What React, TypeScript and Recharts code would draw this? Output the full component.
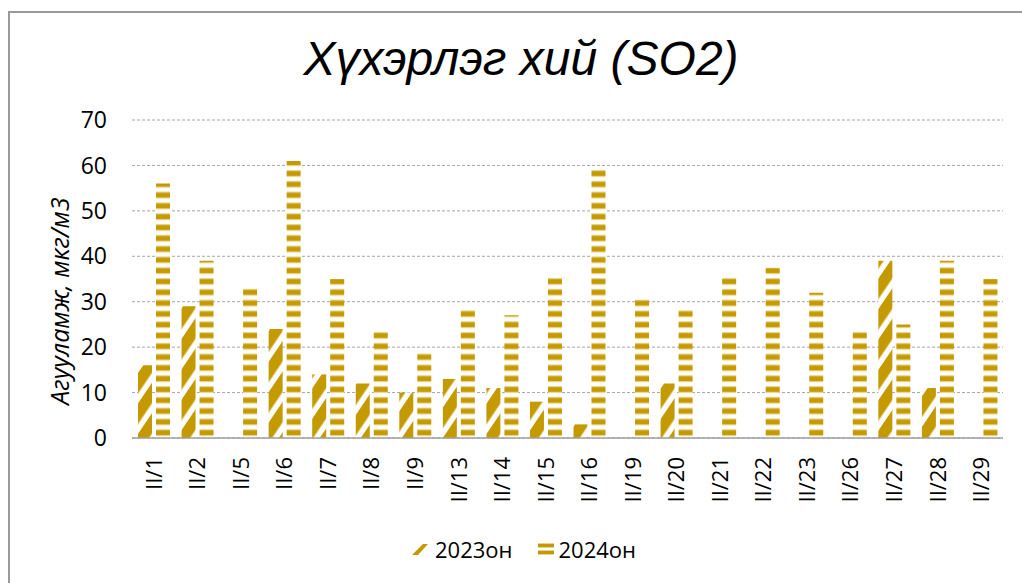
import { BarChart, Bar, XAxis, YAxis, CartesianGrid } from 'recharts';

const days = ['II/1', 'II/2', 'II/5', 'II/6', 'II/7', 'II/8', 'II/9', 'II/13', 'II/14', 'II/15', 'II/16', 'II/19', 'II/20', 'II/21', 'II/22', 'II/23', 'II/26', 'II/27', 'II/28', 'II/29'];
const so2023 = [16, 29, 0, 24, 14, 12, 10, 13, 11, 8, 3, 0, 12, 0, 0, 0, 0, 39, 11, 0];
const so2024 = [56, 39, 33, 61, 35, 23.5, 19, 28.5, 27, 36, 59, 30.5, 28.5, 36, 37.5, 32, 23.5, 25, 39, 35];
const yTicks = [0, 10, 20, 30, 40, 50, 60, 70];

const GOLD = '#C49A00';
const GOLD_LIGHT = '#E8D38C';
const FONT = '"Open Sans", sans-serif';

const data = days.map((d, i) => ({ day: d, y2023: so2023[i], y2024: so2024[i] }));

// rotated date labels under the axis
const XTick = (props: any) => {
  const { x, y, payload } = props;
  const ty = y + 19;
  return (
    <text
      x={x}
      y={ty}
      transform={`rotate(-90, ${x}, ${ty})`}
      textAnchor="end"
      dy="0.36em"
      fontSize={22}
      fontFamily={FONT}
      fill="#000"
    >
      {payload.value}
    </text>
  );
};

export default function App() {
  return (
    <div style={{ position: 'fixed', left: 0, top: 0, width: 1022, height: 583, overflow: 'hidden', background: '#fff' }}>
      <div style={{ position: 'absolute', left: 8, top: 11, width: 1014, height: 572, borderTop: '2px solid #9a9a9a', borderLeft: '2px solid #9a9a9a', boxSizing: 'border-box' }} />

      <div style={{ position: 'absolute', left: 0, width: 1042, top: 32, textAlign: 'center', fontFamily: '"Liberation Sans", Arial, sans-serif', fontStyle: 'italic', fontSize: 48, lineHeight: '54px', color: '#000' }}>
        Хүхэрлэг хий (SO2)
      </div>

      <div style={{ position: 'absolute', left: 0, top: 0 }}>
        <BarChart width={1022} height={583} data={data} margin={{ top: 120, right: 19, bottom: 0, left: 0 }} barSize={14} barGap={4}>
          <defs>
            <pattern id="diag23" patternUnits="userSpaceOnUse" width={17} height={17} patternTransform="rotate(34)">
              <rect x={0} y={0} width={17} height={17} fill="#fff" />
              <rect x={0} y={0} width={11.5} height={17} fill={GOLD} />
            </pattern>
            <pattern id="hstripe24" patternUnits="userSpaceOnUse" width={20} height={10.8} y={438}>
              <rect x={0} y={0} width={20} height={10.8} fill="#fff" />
              <rect x={0} y={2} width={20} height={7} fill={GOLD_LIGHT} />
              <rect x={0} y={3.2} width={20} height={4.6} fill={GOLD} />
            </pattern>
          </defs>
          <CartesianGrid vertical={false} stroke="#a6a6a6" strokeDasharray="3 2" />
          <XAxis
            dataKey="day"
            height={145}
            interval={0}
            tickLine={false}
            tickSize={0}
            tickMargin={0}
            axisLine={{ stroke: '#a0a0a0', strokeWidth: 1.5 }}
            tick={<XTick />}
          />
          <YAxis
            width={132}
            domain={[0, 70]}
            ticks={yTicks}
            interval={0}
            axisLine={false}
            tickLine={false}
            tickSize={0}
            tickMargin={25}
            tick={{ fontSize: 23, fontFamily: FONT, fill: '#000' }}
            label={{
              content: () => (
                <text
                  x={59}
                  y={301}
                  transform="rotate(-90, 59, 301)"
                  textAnchor="middle"
                  dominantBaseline="central"
                  fontSize={25}
                  fontStyle="italic"
                  fontFamily={FONT}
                  fill="#000"
                >
                  Агууламж, мкг/м3
                </text>
              ),
            }}
          />
          <Bar dataKey="y2023" name="2023он" fill="url(#diag23)" isAnimationActive={false} />
          <Bar dataKey="y2024" name="2024он" fill="url(#hstripe24)" isAnimationActive={false} />
        </BarChart>
      </div>

      <div style={{ position: 'absolute', left: 0, width: 1022, top: 534, display: 'flex', justifyContent: 'center', paddingLeft: 26, boxSizing: 'border-box', fontFamily: FONT, fontSize: 22, lineHeight: '30px', color: '#000' }}>
        <div style={{ display: 'flex', alignItems: 'center' }}>
          <svg width={16} height={12} style={{ marginRight: 7 }}>
            <polygon points="0,12 6,12 16,1 11,1" fill={GOLD} />
          </svg>
          <span>2023он</span>
        </div>
        <div style={{ display: 'flex', alignItems: 'center', marginLeft: 25 }}>
          <svg width={16} height={12} style={{ marginRight: 5 }}>
            <rect x={0} y={0} width={16} height={5} fill={GOLD_LIGHT} />
            <rect x={0} y={1} width={16} height={3} fill={GOLD} />
            <rect x={0} y={7} width={16} height={5} fill={GOLD_LIGHT} />
            <rect x={0} y={8} width={16} height={3} fill={GOLD} />
          </svg>
          <span>2024он</span>
        </div>
      </div>
    </div>
  );
}
